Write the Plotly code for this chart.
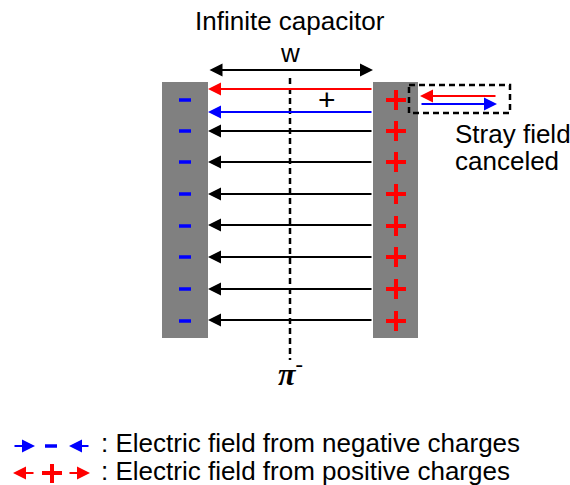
import plotly.graph_objects as go

W, H = 570, 485

# ---- data ----
title_text = "Infinite capacitor"
charge_rows_y = [100, 131, 162, 194, 226, 257, 289, 321]
field_rows_y = [131, 162, 194, 225, 257, 289, 320]
red_field_y = 89
blue_field_y = 112
stray_red_y = 96
stray_blue_y = 104
legend_labels = [": Electric field from negative charges", ": Electric field from positive charges"]
legend_y = [443, 471]

left_plate = (162, 208)
right_plate = (373, 418)
plate_top, plate_bottom = 82, 338

FONT = "Liberation Sans, Arial, sans-serif"
BLUE = "#0000ff"
RED = "#ff0000"
GRAY = "#808080"

fig = go.Figure()
fig.add_trace(go.Scatter(x=[0, W], y=[0, H], mode="markers", marker=dict(opacity=0), hoverinfo="skip", showlegend=False))

shapes = []
annotations = []

# plates
for x0, x1 in (left_plate, right_plate):
    shapes.append(dict(type="rect", x0=x0, x1=x1, y0=plate_top, y1=plate_bottom,
                       fillcolor=GRAY, line=dict(width=0), layer="below"))

def arrow(x_head, y_head, x_tail, y_tail, color, width=2, both=False, size=1.3):
    annotations.append(dict(x=x_head, y=y_head, ax=x_tail, ay=y_tail, xref="x", yref="y",
                            axref="x", ayref="y", text="", showarrow=True,
                            arrowhead=2, arrowsize=size, arrowwidth=width, arrowcolor=color,
                            arrowside="end+start" if both else "end", standoff=0, startstandoff=0))

# field lines between plates
arrow(left_plate[1], red_field_y, right_plate[0], red_field_y, RED)
arrow(left_plate[1], blue_field_y, right_plate[0], blue_field_y, BLUE)
for y in field_rows_y:
    arrow(left_plate[1], y, right_plate[0], y, "black")

# width arrow
arrow(right_plate[0], 70, left_plate[1], 70, "black", both=True)

# dashed center line
shapes.append(dict(type="line", x0=290, x1=290, y0=78, y1=360,
                   line=dict(color="black", width=2.5, dash="6px,4px")))

# charges on plates
for y in charge_rows_y:
    shapes.append(dict(type="line", x0=179, x1=191, y0=y, y1=y, line=dict(color=BLUE, width=3.5)))
    shapes.append(dict(type="line", x0=386, x1=406, y0=y, y1=y, line=dict(color=RED, width=4)))
    shapes.append(dict(type="line", x0=396, x1=396, y0=y - 10, y1=y + 10, line=dict(color=RED, width=4)))

# stray field box
shapes.append(dict(type="rect", x0=409, x1=510, y0=85, y1=113,
                   line=dict(color="black", width=2.5, dash="6px,4px")))
arrow(420, stray_red_y, 497, stray_red_y, RED)
arrow(497, stray_blue_y, 420, stray_blue_y, BLUE)

# texts
def text(x, y, s, size=26, anchor="center", color="black", family=FONT):
    annotations.append(dict(x=x, y=y, xref="x", yref="y", text=s, showarrow=False,
                            xanchor=anchor, yanchor="middle",
                            font=dict(family=family, size=size, color=color)))

text(290, 21, title_text)
text(290, 53, "w")
text(327, 99, "+", size=30)
text(453, 134, "Stray field", anchor="left")
text(453, 161, "canceled", anchor="left")
text(290, 372, "<b><i>π</i></b><sup>-</sup>", size=32, family="Liberation Serif, Times New Roman, serif")

# legend
for lab, y in zip(legend_labels, legend_y):
    text(99, y, lab, anchor="left")
# negative legend symbols
arrow(35, 446, 13, 446, BLUE)
shapes.append(dict(type="line", x0=45, x1=57, y0=446, y1=446, line=dict(color=BLUE, width=3.5)))
arrow(69, 446, 90, 446, BLUE)
# positive legend symbols
arrow(13, 473, 35, 473, RED)
shapes.append(dict(type="line", x0=42, x1=62, y0=473, y1=473, line=dict(color=RED, width=4)))
shapes.append(dict(type="line", x0=52, x1=52, y0=464, y1=483, line=dict(color=RED, width=4)))
arrow(90, 473, 68, 473, RED)

fig.update_layout(
    width=W, height=H, margin=dict(l=0, r=0, t=0, b=0),
    paper_bgcolor="white", plot_bgcolor="white",
    xaxis=dict(range=[0, W], visible=False, fixedrange=True),
    yaxis=dict(range=[H, 0], visible=False, fixedrange=True),
    shapes=shapes, annotations=annotations, showlegend=False,
)
fig.write_html("out.html", config={"displayModeBar": False},
               post_script="document.body.style.margin='0';")
